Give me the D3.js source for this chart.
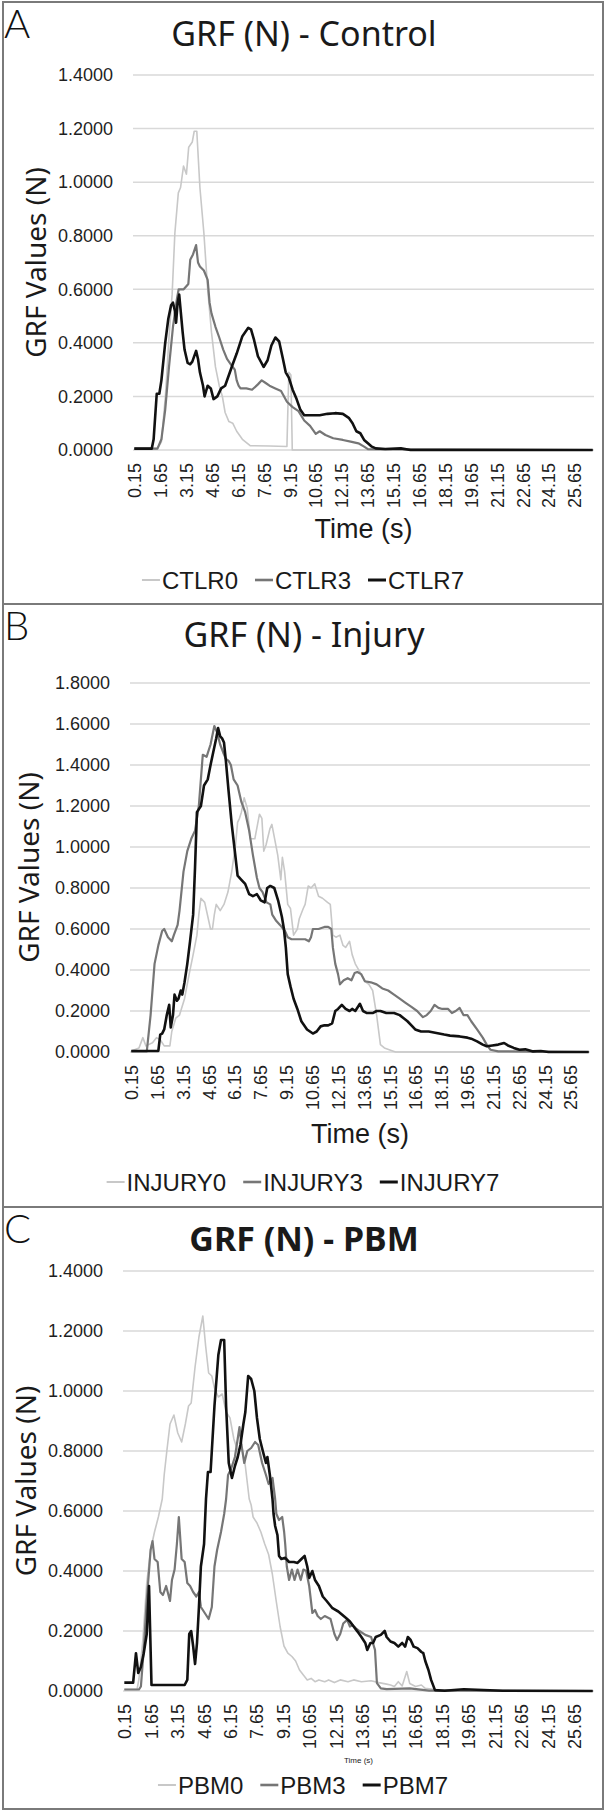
<!DOCTYPE html>
<html>
<head>
<meta charset="utf-8">
<script src="https://cdn.jsdelivr.net/npm/d3@7"></script>
<style>
  body { margin: 0; background: #fff; }
  svg { display: block; }
</style>
</head>
<body>
<svg id="chart"></svg>
<script>
// ---- data: [time (s), GRF (N)] ----
const xTickLabels = ["0.15","1.65","3.15","4.65","6.15","7.65","9.15","10.65","12.15","13.65","15.15","16.65","18.15","19.65","21.15","22.65","24.15","25.65"];
const yTicksA = [0, 0.2, 0.4, 0.6, 0.8, 1.0, 1.2, 1.4];
const yTicksB = [0, 0.2, 0.4, 0.6, 0.8, 1.0, 1.2, 1.4, 1.6, 1.8];
const yTicksC = [0, 0.2, 0.4, 0.6, 0.8, 1.0, 1.2, 1.4];

const ctlrNames = ["CTLR0", "CTLR3", "CTLR7"];
const injuryNames = ["INJURY0", "INJURY3", "INJURY7"];
const pbmNames = ["PBM0", "PBM3", "PBM7"];

const ctlr0 = [[0.15,0.005],[1.5,0.005],[1.72,0.03],[1.95,0.2],[2.16,0.42],[2.34,0.58],[2.5,0.81],[2.7,0.96],[2.83,0.98],[3.0,1.06],[3.17,1.03],[3.3,1.13],[3.51,1.15],[3.62,1.19],[3.77,1.19],[3.95,0.98],[4.18,0.81],[4.4,0.6],[4.62,0.44],[4.85,0.31],[5.07,0.24],[5.25,0.2],[5.41,0.14],[5.63,0.106],[5.85,0.1],[6.08,0.07],[6.41,0.04],[6.86,0.016],[7.98,0.015],[8.99,0.013],[9.1,0.29],[9.22,0.28],[9.3,0.0],[26.7,0.0]];
const ctlr3 = [[0.15,0.005],[1.49,0.005],[1.72,0.04],[1.94,0.15],[2.16,0.31],[2.39,0.46],[2.61,0.56],[2.72,0.6],[3.01,0.6],[3.28,0.62],[3.39,0.71],[3.55,0.73],[3.73,0.765],[3.84,0.70],[3.95,0.685],[4.18,0.67],[4.4,0.635],[4.51,0.55],[4.62,0.51],[4.85,0.46],[5.07,0.42],[5.3,0.375],[5.52,0.34],[5.74,0.32],[5.97,0.3],[6.08,0.26],[6.19,0.24],[6.3,0.23],[6.64,0.23],[6.97,0.225],[7.31,0.245],[7.53,0.26],[7.76,0.25],[7.98,0.24],[8.32,0.23],[8.65,0.22],[8.99,0.18],[9.32,0.16],[9.66,0.145],[9.99,0.11],[10.33,0.09],[10.66,0.06],[10.89,0.07],[11.22,0.056],[11.67,0.044],[12.23,0.0375],[12.68,0.031],[13.13,0.025],[13.46,0.0125],[13.68,0.003],[26.7,0.0]];
const ctlr7 = [[0.15,0.005],[1.16,0.005],[1.27,0.04],[1.45,0.21],[1.6,0.21],[1.72,0.26],[1.94,0.4],[2.12,0.49],[2.28,0.54],[2.39,0.55],[2.5,0.52],[2.57,0.475],[2.66,0.55],[2.75,0.58],[2.95,0.44],[3.06,0.375],[3.24,0.325],[3.39,0.32],[3.51,0.33],[3.73,0.37],[3.84,0.34],[3.95,0.29],[4.13,0.24],[4.22,0.2],[4.4,0.24],[4.58,0.23],[4.74,0.19],[4.96,0.2],[5.18,0.23],[5.41,0.24],[5.63,0.28],[5.85,0.32],[6.08,0.36],[6.41,0.425],[6.75,0.456],[6.91,0.45],[7.09,0.41],[7.31,0.35],[7.64,0.31],[7.87,0.335],[8.09,0.39],[8.32,0.42],[8.54,0.405],[8.76,0.34],[8.92,0.29],[9.1,0.27],[9.32,0.225],[9.55,0.19],[9.77,0.15],[9.99,0.13],[10.44,0.13],[10.89,0.13],[11.34,0.135],[11.78,0.1375],[12.23,0.135],[12.57,0.12],[12.79,0.1],[13.01,0.07],[13.24,0.0625],[13.46,0.0375],[13.68,0.025],[13.91,0.0125],[14.13,0.006],[14.69,0.004],[15.59,0.006],[16.15,0.0],[26.7,0.0]];

const injury0 = [[0.15,0.005],[0.6,0.02],[0.82,0.07],[1.0,0.03],[1.38,0.045],[1.61,0.07],[1.83,0.06],[2.06,0.03],[2.39,0.03],[2.5,0.1],[2.73,0.165],[2.95,0.18],[3.24,0.26],[3.51,0.38],[3.74,0.475],[3.96,0.57],[4.07,0.67],[4.19,0.75],[4.41,0.73],[4.75,0.6],[4.86,0.6],[4.97,0.67],[5.08,0.72],[5.31,0.69],[5.53,0.72],[5.76,0.78],[5.98,0.88],[6.2,1.01],[6.32,1.12],[6.43,1.14],[6.54,1.17],[6.7,1.24],[6.88,1.19],[7.06,1.04],[7.32,1.04],[7.59,1.16],[7.73,1.14],[7.84,0.98],[7.97,1.01],[8.2,1.09],[8.31,1.11],[8.47,1.04],[8.65,0.96],[8.83,0.84],[8.92,0.95],[9.05,0.88],[9.23,0.72],[9.39,0.7],[9.57,0.57],[9.79,0.6],[9.9,0.65],[10.13,0.7],[10.24,0.72],[10.42,0.81],[10.58,0.8],[10.8,0.82],[11.02,0.76],[11.25,0.75],[11.54,0.73],[11.7,0.72],[11.85,0.57],[12.03,0.56],[12.26,0.57],[12.44,0.52],[12.59,0.51],[12.82,0.54],[12.97,0.475],[13.15,0.43],[13.49,0.38],[13.71,0.345],[13.94,0.33],[14.16,0.3],[14.39,0.18],[14.61,0.036],[14.84,0.02],[15.4,0.003],[15.5,0.0],[26.7,0.0]];
const injury3 = [[0.15,0.003],[1.05,0.003],[1.27,0.18],[1.5,0.43],[1.72,0.52],[1.94,0.59],[2.06,0.6],[2.28,0.56],[2.5,0.54],[2.62,0.57],[2.84,0.62],[2.95,0.69],[3.18,0.88],[3.4,0.98],[3.63,1.04],[3.85,1.08],[4.07,1.2],[4.3,1.45],[4.52,1.44],[4.75,1.5],[4.97,1.59],[5.13,1.56],[5.31,1.5],[5.49,1.46],[5.64,1.43],[5.8,1.42],[5.93,1.4],[6.09,1.33],[6.32,1.3],[6.54,1.22],[6.76,1.17],[6.99,1.08],[7.21,0.96],[7.44,0.85],[7.59,0.8],[7.77,0.78],[8.0,0.73],[8.22,0.72],[8.33,0.67],[8.56,0.64],[8.78,0.62],[9.07,0.59],[9.23,0.56],[9.45,0.55],[10.24,0.55],[10.46,0.54],[10.58,0.56],[10.69,0.6],[11.02,0.6],[11.36,0.61],[11.58,0.61],[11.76,0.6],[11.85,0.51],[11.99,0.43],[12.15,0.38],[12.26,0.33],[12.48,0.35],[12.71,0.36],[12.93,0.35],[13.11,0.385],[13.27,0.39],[13.49,0.38],[13.71,0.345],[14.05,0.34],[14.39,0.33],[14.72,0.31],[15.06,0.3],[15.4,0.28],[15.73,0.26],[16.07,0.24],[16.41,0.22],[16.74,0.2],[17.08,0.17],[17.3,0.18],[17.53,0.2],[17.75,0.23],[17.98,0.215],[18.2,0.21],[18.54,0.21],[18.76,0.19],[18.98,0.2],[19.21,0.215],[19.43,0.18],[19.66,0.18],[19.88,0.15],[20.22,0.11],[20.55,0.07],[20.78,0.036],[21.0,0.011],[21.45,0.003],[26.7,0.0]];
const injury7 = [[0.15,0.005],[1.72,0.005],[1.83,0.085],[1.94,0.09],[2.06,0.11],[2.21,0.18],[2.35,0.23],[2.44,0.12],[2.57,0.18],[2.66,0.28],[2.8,0.25],[2.89,0.26],[3.02,0.3],[3.11,0.28],[3.24,0.34],[3.4,0.43],[3.56,0.54],[3.74,0.67],[3.85,0.9],[3.96,1.17],[4.19,1.2],[4.37,1.3],[4.59,1.33],[4.75,1.4],[4.9,1.46],[5.08,1.53],[5.19,1.58],[5.31,1.54],[5.42,1.53],[5.53,1.51],[5.64,1.42],[5.8,1.27],[5.98,1.11],[6.2,0.95],[6.32,0.86],[6.54,0.84],[6.76,0.82],[6.99,0.77],[7.21,0.76],[7.44,0.77],[7.66,0.74],[7.89,0.73],[8.04,0.8],[8.22,0.81],[8.45,0.8],[8.67,0.74],[8.89,0.66],[9.01,0.6],[9.12,0.51],[9.23,0.38],[9.39,0.32],[9.57,0.26],[9.79,0.21],[10.02,0.15],[10.35,0.11],[10.69,0.09],[10.91,0.1],[11.14,0.125],[11.36,0.13],[11.58,0.13],[11.81,0.14],[11.99,0.2],[12.15,0.21],[12.37,0.23],[12.59,0.21],[12.82,0.2],[12.97,0.21],[13.15,0.2],[13.42,0.235],[13.6,0.2],[13.83,0.19],[14.16,0.19],[14.39,0.2],[14.61,0.2],[14.95,0.19],[15.4,0.19],[15.73,0.18],[15.96,0.165],[16.18,0.15],[16.41,0.13],[16.63,0.11],[16.97,0.1],[17.41,0.1],[17.86,0.093],[18.31,0.085],[18.65,0.08],[19.21,0.076],[19.66,0.07],[19.88,0.065],[20.22,0.052],[20.55,0.036],[20.78,0.028],[21.11,0.032],[21.45,0.036],[21.79,0.044],[22.01,0.032],[22.35,0.02],[22.68,0.011],[23.02,0.013],[23.47,0.003],[23.92,0.005],[24.37,0.0],[26.7,0.0]];

const pbm0 = [[0.15,0.005],[0.87,0.005],[0.98,0.04],[1.2,0.17],[1.42,0.36],[1.64,0.47],[1.86,0.53],[2.08,0.58],[2.3,0.64],[2.41,0.72],[2.56,0.8],[2.74,0.89],[2.96,0.92],[3.18,0.86],[3.4,0.83],[3.61,0.89],[3.79,0.95],[3.94,0.96],[4.16,1.08],[4.38,1.18],[4.6,1.25],[4.76,1.15],[4.93,1.06],[5.11,1.05],[5.26,1.01],[5.48,0.98],[5.7,0.99],[5.92,0.93],[6.14,0.91],[6.36,0.84],[6.58,0.8],[6.79,0.82],[7.01,0.75],[7.23,0.64],[7.34,0.62],[7.45,0.58],[7.67,0.56],[7.89,0.53],[8.11,0.49],[8.33,0.455],[8.54,0.39],[8.76,0.3],[8.98,0.215],[9.2,0.15],[9.42,0.126],[9.65,0.115],[9.86,0.1],[10.08,0.07],[10.3,0.053],[10.52,0.037],[10.74,0.042],[10.96,0.031],[11.18,0.037],[11.51,0.031],[11.73,0.037],[12.06,0.028],[12.39,0.037],[12.83,0.031],[13.15,0.037],[13.59,0.031],[14.14,0.034],[14.58,0.028],[15.02,0.023],[15.24,0.02],[15.46,0.015],[15.68,0.031],[15.9,0.017],[16.16,0.065],[16.33,0.025],[16.66,0.015],[16.99,0.02],[17.21,0.009],[17.65,0.006],[18.09,0.003],[19.4,0.006],[19.84,0.003],[21.6,0.001],[26.7,0.0]];
const pbm3 = [[0.15,0.005],[0.98,0.005],[1.09,0.015],[1.25,0.137],[1.42,0.3],[1.64,0.47],[1.75,0.5],[1.86,0.44],[2.04,0.43],[2.19,0.33],[2.34,0.32],[2.52,0.35],[2.74,0.3],[2.85,0.37],[3.0,0.405],[3.13,0.49],[3.24,0.58],[3.4,0.44],[3.57,0.43],[3.72,0.36],[3.88,0.35],[4.05,0.33],[4.23,0.315],[4.38,0.33],[4.49,0.28],[4.71,0.26],[4.93,0.24],[5.11,0.28],[5.26,0.415],[5.41,0.47],[5.63,0.53],[5.81,0.59],[5.92,0.64],[6.03,0.72],[6.2,0.74],[6.42,0.78],[6.68,0.88],[6.79,0.82],[6.95,0.76],[7.12,0.8],[7.34,0.81],[7.56,0.83],[7.74,0.82],[7.96,0.76],[8.18,0.72],[8.33,0.69],[8.55,0.71],[8.7,0.64],[8.77,0.59],[8.92,0.57],[9.1,0.58],[9.21,0.53],[9.27,0.49],[9.36,0.415],[9.49,0.37],[9.65,0.405],[9.8,0.37],[9.97,0.405],[10.15,0.37],[10.3,0.405],[10.46,0.4],[10.63,0.35],[10.81,0.26],[10.96,0.27],[11.11,0.25],[11.29,0.24],[11.51,0.25],[11.84,0.24],[12.06,0.19],[12.21,0.17],[12.39,0.19],[12.56,0.225],[12.78,0.237],[12.94,0.215],[13.09,0.22],[13.26,0.21],[13.48,0.2],[13.81,0.187],[14.14,0.18],[14.36,0.137],[14.47,0.026],[14.69,0.009],[15.02,0.006],[16.33,0.009],[17.43,0.001],[19.4,0.001],[26.7,0.0]];
const pbm7 = [[0.15,0.028],[0.65,0.028],[0.81,0.126],[0.94,0.06],[1.09,0.08],[1.25,0.126],[1.42,0.19],[1.55,0.35],[1.69,0.02],[3.57,0.02],[3.72,0.037],[3.83,0.19],[3.94,0.2],[4.05,0.15],[4.16,0.09],[4.27,0.16],[4.38,0.28],[4.49,0.415],[4.67,0.49],[4.78,0.64],[4.89,0.73],[5.04,0.73],[5.26,0.95],[5.48,1.12],[5.63,1.17],[5.81,1.17],[5.92,0.95],[6.07,0.76],[6.25,0.71],[6.42,0.75],[6.58,0.78],[6.73,0.82],[6.9,0.89],[7.01,0.93],[7.17,1.05],[7.34,1.04],[7.52,1.0],[7.67,0.91],[7.83,0.84],[8.0,0.8],[8.18,0.76],[8.26,0.78],[8.4,0.72],[8.55,0.64],[8.61,0.59],[8.7,0.55],[8.83,0.52],[8.92,0.45],[9.05,0.44],[9.27,0.444],[9.49,0.43],[9.76,0.43],[9.97,0.427],[10.19,0.44],[10.37,0.45],[10.52,0.415],[10.63,0.377],[10.81,0.4],[10.96,0.37],[11.18,0.35],[11.4,0.315],[11.62,0.3],[11.95,0.276],[12.28,0.265],[12.5,0.254],[12.72,0.243],[12.94,0.232],[13.15,0.215],[13.37,0.198],[13.59,0.18],[13.81,0.16],[13.92,0.137],[14.1,0.16],[14.25,0.16],[14.4,0.18],[14.69,0.187],[14.91,0.2],[15.02,0.18],[15.24,0.165],[15.46,0.16],[15.68,0.148],[15.9,0.16],[16.07,0.148],[16.22,0.18],[16.38,0.17],[16.55,0.148],[16.77,0.143],[16.99,0.13],[17.1,0.126],[17.21,0.1],[17.39,0.07],[17.54,0.037],[17.76,0.003],[18.31,0.001],[19.4,0.006],[21.6,0.001],[26.7,0.0]];

// ---- layout ----
const W = 606, H = 1811;
const lineColors = ['#c8c8c8', '#767676', '#111111'];
const lineWidths = [1.6, 2.2, 2.6];
const sans = '"Liberation Sans", Arial, sans-serif';
const titleFont = '"Noto Sans", "Liberation Sans", sans-serif';

const panels = [
  { letter: 'A', title: 'GRF (N) - Control', bold: false, series: [ctlr0, ctlr3, ctlr7], names: ctlrNames,
    yTicks: yTicksA, top: 2, bottom: 604, plot: {l: 133, r: 594, t: 75, b: 450},
    titleY: 46, letterY: 38, yTitleX: 35, timeY: 538, timeSize: 27, legendY: 580 },
  { letter: 'B', title: 'GRF (N) - Injury', bold: false, series: [injury0, injury3, injury7], names: injuryNames,
    yTicks: yTicksB, top: 604, bottom: 1207, plot: {l: 130, r: 590, t: 683, b: 1052},
    titleY: 647, letterY: 640, yTitleX: 28, timeY: 1143, timeSize: 27, legendY: 1182 },
  { letter: 'C', title: 'GRF (N) - PBM', bold: true, series: [pbm0, pbm3, pbm7], names: pbmNames,
    yTicks: yTicksC, top: 1207, bottom: 1809, plot: {l: 123, r: 594, t: 1271, b: 1691},
    titleY: 1251, letterY: 1243, yTitleX: 25, timeY: 1763, timeSize: 8, legendY: 1785 }
];

const svg = d3.select('#chart').attr('width', W).attr('height', H);
svg.append('rect').attr('width', W).attr('height', H).attr('fill', '#fff');

panels.forEach(p => drawPanel(p));

function drawPanel(p) {
  const g = svg.append('g');
  const cx = W / 2;

  const x = d3.scaleLinear().domain([0.075, 26.775]).range([p.plot.l, p.plot.r]);
  const y = d3.scaleLinear().domain([0, d3.max(p.yTicks)]).range([p.plot.b, p.plot.t]);

  // panel frame
  g.append('rect')
    .attr('x', 3).attr('y', p.top)
    .attr('width', 600).attr('height', p.bottom - p.top)
    .attr('fill', 'none').attr('stroke', '#7a7a7a').attr('stroke-width', 2);

  // gridlines
  g.append('g').selectAll('line')
    .data(p.yTicks)
    .join('line')
      .attr('x1', p.plot.l).attr('x2', p.plot.r)
      .attr('y1', d => y(d)).attr('y2', d => y(d))
      .attr('stroke', '#d9d9d9').attr('stroke-width', 1.5);

  // y axis
  const yAxisG = g.append('g')
    .attr('transform', `translate(${p.plot.l},0)`)
    .call(d3.axisLeft(y).tickValues(p.yTicks).tickFormat(d3.format('.4f')).tickSize(0).tickPadding(20));
  yAxisG.select('.domain').remove();
  yAxisG.selectAll('text')
    .attr('font-family', sans).attr('font-size', 18).attr('fill', '#1f1f1f');

  // x axis, labels every 10th category
  const xAxisG = g.append('g')
    .attr('transform', `translate(0,${p.plot.b})`)
    .call(d3.axisBottom(x).tickValues(xTickLabels.map(Number)).tickFormat((d, i) => xTickLabels[i]).tickSize(0));
  xAxisG.select('.domain').remove();
  xAxisG.selectAll('text')
    .attr('transform', 'rotate(-90)')
    .attr('text-anchor', 'end')
    .attr('x', -13).attr('y', 0).attr('dy', '0.35em')
    .attr('font-family', sans).attr('font-size', 18).attr('fill', '#1f1f1f');

  // series
  const line = d3.line().x(d => x(d[0])).y(d => y(d[1]));
  g.append('g').selectAll('path')
    .data(p.series)
    .join('path')
      .attr('d', line)
      .attr('fill', 'none')
      .attr('stroke', (d, i) => lineColors[i])
      .attr('stroke-width', (d, i) => lineWidths[i])
      .attr('stroke-linejoin', 'round');

  // title
  g.append('text')
    .attr('x', cx + 1).attr('y', p.titleY)
    .attr('text-anchor', 'middle')
    .attr('font-family', titleFont).attr('font-size', 34)
    .attr('font-weight', p.bold ? 700 : 400)
    .attr('fill', '#1a1a1a')
    .text(p.title);

  // panel letter
  g.append('text')
    .attr('x', 4).attr('y', p.letterY)
    .attr('font-family', 'Lato, sans-serif').attr('font-weight', 300).attr('font-size', 40)
    .attr('fill', '#111')
    .text(p.letter);

  // y axis title
  g.append('text')
    .attr('transform', `translate(${p.yTitleX},${(p.plot.t + p.plot.b) / 2}) rotate(-90)`)
    .attr('text-anchor', 'middle').attr('dominant-baseline', 'central')
    .attr('font-family', titleFont).attr('font-size', 28).attr('fill', '#1a1a1a')
    .text('GRF Values (N)');

  // x axis title
  g.append('text')
    .attr('x', (p.plot.l + p.plot.r) / 2).attr('y', p.timeY)
    .attr('text-anchor', 'middle')
    .attr('font-family', sans).attr('font-size', p.timeSize).attr('fill', '#1a1a1a')
    .text('Time (s)');

  // legend, centered on the panel
  const leg = g.append('g');
  let offset = 0;
  p.names.forEach((name, i) => {
    const item = leg.append('g').attr('transform', `translate(${offset},0)`);
    item.append('line')
      .attr('x1', 0).attr('x2', 18)
      .attr('y1', p.legendY).attr('y2', p.legendY)
      .attr('stroke', lineColors[i]).attr('stroke-width', lineWidths[i] + 0.4);
    const t = item.append('text')
      .attr('x', 20).attr('y', p.legendY)
      .attr('dominant-baseline', 'central')
      .attr('font-family', sans).attr('font-size', 24).attr('fill', '#1a1a1a')
      .text(name);
    offset += 20 + t.node().getComputedTextLength() + 17;
  });
  const legW = offset - 17;
  leg.attr('transform', `translate(${cx - legW / 2},0)`);
}
</script>
</body>
</html>
